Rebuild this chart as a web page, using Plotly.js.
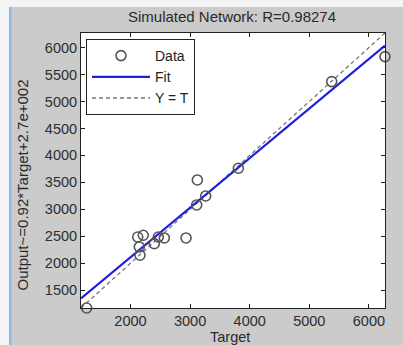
<!DOCTYPE html>
<html>
<head>
<meta charset="utf-8">
<script src="https://cdn.plot.ly/plotly-3.0.1.min.js"></script>
<style>html,body{margin:0;padding:0;background:#cbcbcb;}#chart{width:403px;height:345px;}</style>
</head>
<body>
<div id="chart"></div>
<script>
// Data
const targets = [1265, 2121, 2215, 2148, 2160, 2400, 2467, 2568, 2932, 3111, 3122, 3262, 3810, 5376, 6270];
const outputs = [1170, 2487, 2519, 2302, 2148, 2363, 2487, 2469, 2469, 3081, 3545, 3248, 3762, 5369, 5832];
const fitX = [1170, 6270];
const fitY = [1346, 6038];
const identX = [1170, 6270];
const identY = [1170, 6270];
const axisRange = [1170, 6270];
const xTicks = [2000, 3000, 4000, 5000, 6000];
const yTicks = [1500, 2000, 2500, 3000, 3500, 4000, 4500, 5000, 5500, 6000];
const titleText = 'Simulated Network: R=0.98274';
const xLabel = 'Target';
const yLabel = 'Output~=0.92*Target+2.7e+002';

const F = 'Arial, "Liberation Sans", sans-serif';
const W = 403, H = 345, L = 81, R = 18, T = 33, B = 37;
const pw = W - L - R, ph = H - T - B;
const px = x => (x - L) / pw;
const py = y => (H - B - y) / ph;

const traces = [
  {x: identX, y: identY, mode: 'lines', name: 'Y = T', legendrank: 3,
   line: {color: '#777777', width: 1.3, dash: '4px,3px'}},
  {x: fitX, y: fitY, mode: 'lines', name: 'Fit', legendrank: 2,
   line: {color: '#1f1fe0', width: 2.2}},
  {x: targets, y: outputs, mode: 'markers', name: 'Data', legendrank: 1, cliponaxis: false,
   marker: {symbol: 'circle-open', size: 10, color: '#555555', line: {width: 1.6, color: '#555555'}}}
];

const axisCommon = {
  range: axisRange, showgrid: false, zeroline: false, showline: true, linecolor: '#222', linewidth: 1,
  mirror: 'ticks', ticks: 'inside', ticklen: 4, tickcolor: '#222',
  tickfont: {family: F, size: 14.5, color: '#2e2e2e'}
};

const layout = {
  width: W, height: H,
  margin: {l: L, r: R, t: T, b: B},
  paper_bgcolor: '#cbcbcb', plot_bgcolor: '#ffffff',
  title: {text: titleText, font: {family: F, size: 15, color: '#2a2a2a'}, x: px(232), xref: 'paper', xanchor: 'center', y: 1 - 17 / H, yanchor: 'middle'},
  xaxis: Object.assign({}, axisCommon, {tickvals: xTicks, ticktext: xTicks.map(String)}),
  yaxis: Object.assign({}, axisCommon, {tickvals: yTicks, ticktext: yTicks.map(String)}),
  showlegend: true,
  legend: {x: px(86), y: py(39), xanchor: 'left', yanchor: 'top', bgcolor: '#ffffff', bordercolor: '#222', borderwidth: 1,
    font: {family: F, size: 14, color: '#222'}, traceorder: 'normal', itemwidth: 58, tracegroupgap: 0},
  annotations: [
    {text: yLabel, xref: 'paper', yref: 'paper', x: px(22), y: py(185.5), showarrow: false, textangle: -90,
     xanchor: 'center', yanchor: 'middle', font: {family: F, size: 15, color: '#2a2a2a'}},
    {text: xLabel, xref: 'paper', yref: 'paper', x: px(230), y: py(337), showarrow: false,
     xanchor: 'center', yanchor: 'middle', font: {family: F, size: 14.5, color: '#2a2a2a'}}
  ],
  shapes: [
    {type: 'rect', xref: 'paper', yref: 'paper', x0: px(0), x1: px(9), y0: py(H), y1: py(0), fillcolor: '#f4f4f4', line: {width: 0}, layer: 'below'},
    {type: 'rect', xref: 'paper', yref: 'paper', x0: px(9), x1: px(W), y0: py(7), y1: py(0), fillcolor: '#f4f4f4', line: {width: 0}, layer: 'below'},
    {type: 'rect', xref: 'paper', yref: 'paper', x0: px(9), x1: px(11.5), y0: py(H), y1: py(7), fillcolor: '#8fb9e3', line: {width: 0}, layer: 'below'}
  ]
};

Plotly.newPlot('chart', traces, layout, {displayModeBar: false, staticPlot: true});
</script>
</body>
</html>
